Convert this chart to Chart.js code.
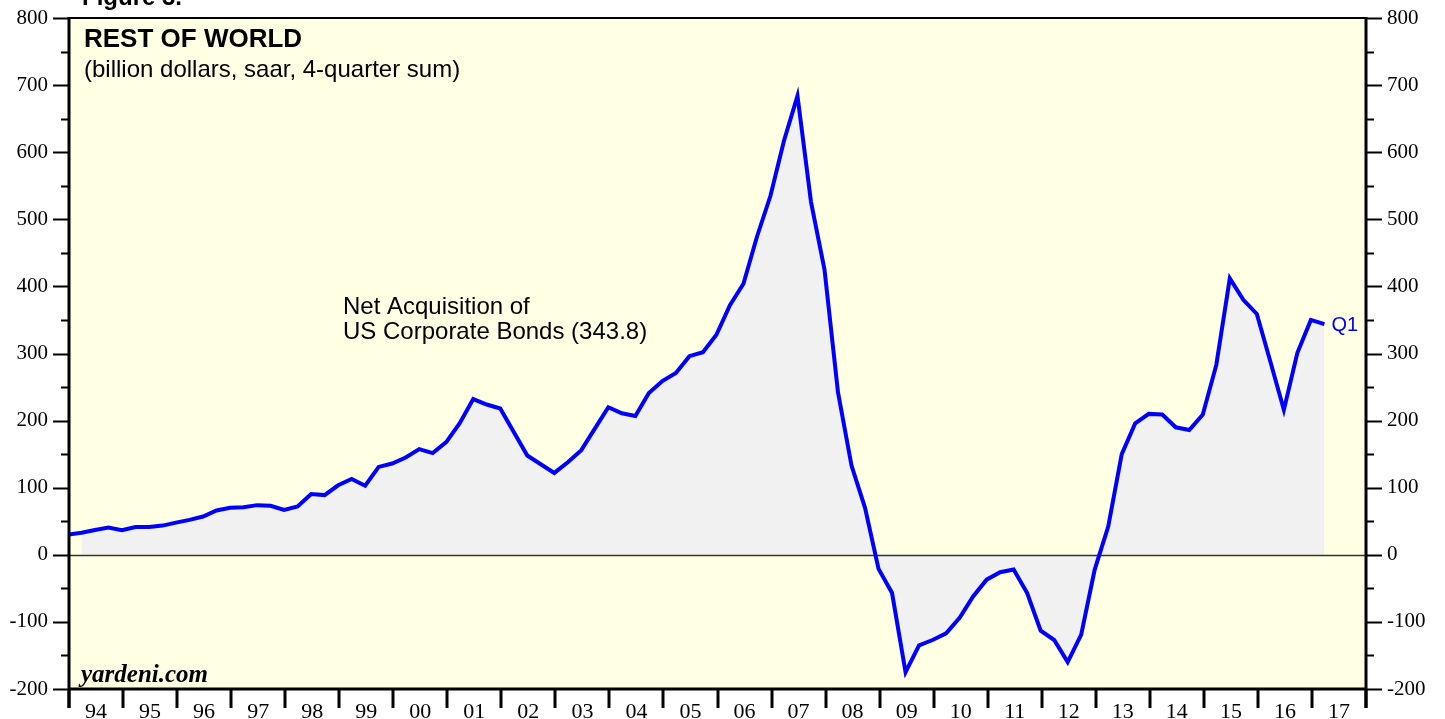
<!DOCTYPE html>
<html><head><meta charset="utf-8">
<script src="https://cdn.jsdelivr.net/npm/chart.js@4.4.1/dist/chart.umd.min.js"></script>
<style>html,body{margin:0;padding:0;background:#fff;}#wrap{width:1445px;height:719px;}</style>
</head><body><div id="wrap"><canvas id="c" width="1445" height="719"></canvas></div>
<script>
const quarterLabels = ['1993Q4',
 '1994Q1','1994Q2','1994Q3','1994Q4','1995Q1','1995Q2','1995Q3','1995Q4',
 '1996Q1','1996Q2','1996Q3','1996Q4','1997Q1','1997Q2','1997Q3','1997Q4',
 '1998Q1','1998Q2','1998Q3','1998Q4','1999Q1','1999Q2','1999Q3','1999Q4',
 '2000Q1','2000Q2','2000Q3','2000Q4','2001Q1','2001Q2','2001Q3','2001Q4',
 '2002Q1','2002Q2','2002Q3','2002Q4','2003Q1','2003Q2','2003Q3','2003Q4',
 '2004Q1','2004Q2','2004Q3','2004Q4','2005Q1','2005Q2','2005Q3','2005Q4',
 '2006Q1','2006Q2','2006Q3','2006Q4','2007Q1','2007Q2','2007Q3','2007Q4',
 '2008Q1','2008Q2','2008Q3','2008Q4','2009Q1','2009Q2','2009Q3','2009Q4',
 '2010Q1','2010Q2','2010Q3','2010Q4','2011Q1','2011Q2','2011Q3','2011Q4',
 '2012Q1','2012Q2','2012Q3','2012Q4','2013Q1','2013Q2','2013Q3','2013Q4',
 '2014Q1','2014Q2','2014Q3','2014Q4','2015Q1','2015Q2','2015Q3','2015Q4',
 '2016Q1','2016Q2','2016Q3','2016Q4','2017Q1'];
const bondValues = [30,
 33,37,40.5,36.6, 41.5,41.5,43.5,48,
 52,57,66,70, 71,74,73,67,
 72,90.6,89,103.6, 113,103,131,136,
 145,157.6,151.6,168, 196,232,224,218,
 183,148,135,122, 138,156,188,220,
 211,207,241,259, 271,296,302,328,
 372,404,474,535, 617,684,526,425,
 242,133,70,-21, -57,-175,-135,-127,
 -117,-94,-62,-37, -26,-22,-57,-113,
 -127,-160,-119,-22, 42,150,196,210,
 209,190,186,209, 283,412,380,359,
 288,216,301,350, 343.8];
const yearLabels = ['94','95','96','97','98','99','00','01','02','03','04','05','06','07','08','09','10','11','12','13','14','15','16','17'];
const firstYear = 1994;
const yMin = -200, yMax = 800;

function qPos(label){ const y=+label.slice(0,4), q=+label.slice(5); return y + (q-1)*0.25 + 0.23; }
const linePts = quarterLabels.map((l,i)=>({x:qPos(l), y:bondValues[i]}));
const fillPts = linePts.slice(1);

const deco = {
  id:'deco',
  beforeDraw(chart){
    const {ctx, chartArea:a} = chart;
    ctx.save(); ctx.fillStyle='#FFFFE3'; ctx.fillRect(a.left,a.top,a.right-a.left,a.bottom-a.top); ctx.restore();
  },
  afterDatasetDraw(chart,args){
    if(args.index!==0) return;
    const {ctx, chartArea:a} = chart; const y0 = Math.round(chart.scales.y.getPixelForValue(0))+0.5;
    ctx.save(); ctx.strokeStyle='#333'; ctx.lineWidth=1.5; ctx.beginPath(); ctx.moveTo(a.left,y0); ctx.lineTo(a.right,y0); ctx.stroke(); ctx.restore();
  },
  afterDraw(chart){
    const {ctx, chartArea:a} = chart; const ys=chart.scales.y, xs=chart.scales.x;
    ctx.save();
    ctx.strokeStyle='#000';
    ctx.lineWidth=2;
    for(let v=yMin; v<=yMax; v+=50){
      const p=Math.round(ys.getPixelForValue(v))+0.5; const len = v%100===0?16:8;
      ctx.beginPath(); ctx.moveTo(a.left-len,p); ctx.lineTo(a.left,p); ctx.moveTo(a.right,p); ctx.lineTo(a.right+len,p); ctx.stroke();
    }
    ctx.lineWidth=3;
    for(let i=0;i<=yearLabels.length;i++){
      const p=Math.round(xs.getPixelForValue(firstYear+i));
      ctx.beginPath(); ctx.moveTo(p,a.bottom); ctx.lineTo(p,a.bottom+19); ctx.stroke();
    }
    ctx.lineWidth=2; ctx.beginPath(); ctx.moveTo(a.left,a.top); ctx.lineTo(a.right,a.top); ctx.stroke();
    ctx.lineWidth=3;
    ctx.beginPath(); ctx.moveTo(a.left,a.bottom); ctx.lineTo(a.right,a.bottom); ctx.stroke();
    ctx.beginPath(); ctx.moveTo(a.left,a.top-1); ctx.lineTo(a.left,a.bottom+19); ctx.stroke();
    ctx.beginPath(); ctx.moveTo(a.right,a.top-1); ctx.lineTo(a.right,a.bottom+19); ctx.stroke();
    ctx.fillStyle='#000'; ctx.font='22px "Liberation Serif", serif'; ctx.textAlign='center'; ctx.textBaseline='alphabetic';
    yearLabels.forEach((t,i)=>{ ctx.fillText(t, xs.getPixelForValue(firstYear+i+0.5), a.bottom+29); });
    ctx.textAlign='left';
    ctx.font='bold 24px "Liberation Sans", Arial, sans-serif'; ctx.fillText('Figure 3.', 82, 5);
    ctx.font='bold 26px "Liberation Sans", Arial, sans-serif'; ctx.fillText('REST OF WORLD', 84, 47);
    ctx.font='24px "Liberation Sans", Arial, sans-serif'; ctx.fillText('(billion dollars, saar, 4-quarter sum)', 84, 77);
    ctx.fillText('Net Acquisition of', 343, 314);
    ctx.fillText('US Corporate Bonds (343.8)', 343, 339);
    ctx.fillStyle='#0000FF'; ctx.font='20px "Liberation Sans", Arial, sans-serif';
    const last=linePts[linePts.length-1];
    ctx.fillText('Q1', xs.getPixelForValue(last.x)+7, 331);
    ctx.fillStyle='#000'; ctx.font='italic bold 25px "Liberation Serif", serif'; ctx.fillText('yardeni.com', 81, 682);
    ctx.restore();
  }
};

const yFit = w => s => { s.width = w; s.paddingTop = 0; s.paddingBottom = 0; };

new Chart(document.getElementById('c'), {
  type:'line',
  data:{ datasets:[
    {data:fillPts, fill:'origin', backgroundColor:'#F1F1F1', borderWidth:0, pointRadius:0, tension:0, order:1},
    {data:linePts, fill:false, borderColor:'#0000FF', borderWidth:4, pointRadius:0, tension:0, order:0}
  ]},
  options:{
    responsive:false, animation:false, devicePixelRatio:1,
    layout:{padding:{top:18,left:0,right:0,bottom:0}},
    plugins:{legend:{display:false}, tooltip:{enabled:false}},
    scales:{
      x:{type:'linear', min:firstYear, max:firstYear+yearLabels.length, ticks:{display:false}, grid:{display:false, drawTicks:false}, border:{display:false}, afterFit:s=>{s.height=30; s.paddingLeft=0; s.paddingRight=0;}},
      y:{position:'left', min:yMin, max:yMax, ticks:{stepSize:100, color:'#000', padding:21, font:{family:'"Liberation Serif", serif', size:21}}, grid:{display:false, drawTicks:false}, border:{display:false}, afterFit:yFit(69)},
      y2:{position:'right', min:yMin, max:yMax, ticks:{stepSize:100, color:'#000', padding:21, font:{family:'"Liberation Serif", serif', size:21}}, grid:{display:false, drawTicks:false}, border:{display:false}, afterFit:yFit(79)}
    }
  },
  plugins:[deco]
});
</script></body></html>
